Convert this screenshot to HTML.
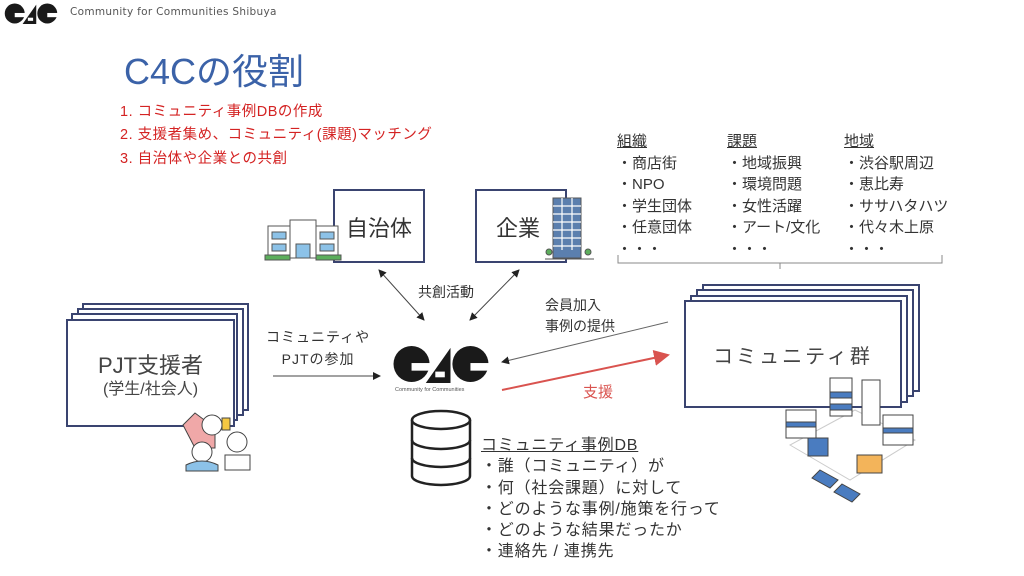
<!DOCTYPE html>
<html><head><meta charset="utf-8">
<style>
body{margin:0;width:1024px;height:576px;background:#fff;position:relative;overflow:hidden;font-family:"Liberation Sans","Noto Sans CJK JP",sans-serif;color:#333}
.a{position:absolute;white-space:nowrap}
.red{color:#d42323;font-size:14.5px}
.box{position:absolute;border:2px solid #3a4470;background:#fff;box-sizing:border-box}
.col{position:absolute;font-size:15px;line-height:21.5px;color:#333}
.col u{text-decoration:underline}
</style></head><body>
<svg width="0" height="0" style="position:absolute">
<defs>
<g id="logo">
<circle cx="19" cy="20" r="19" fill="#1a1a1a"/>
<rect x="19" y="19" width="21" height="8" fill="#fff"/>
<polygon points="34,40 60,3 60,40" fill="#1a1a1a"/>
<rect x="44" y="28" width="10" height="6" fill="#fff"/>
<circle cx="81" cy="20" r="19" fill="#1a1a1a"/>
<rect x="81" y="19" width="21" height="8" fill="#fff"/>
</g>
<marker id="ah" markerWidth="8" markerHeight="8" refX="7" refY="4" orient="auto-start-reverse"><path d="M0,0 L8,4 L0,8z" fill="#222"/></marker>
<marker id="ar" markerWidth="8" markerHeight="8" refX="7" refY="4" orient="auto"><path d="M0,0 L8,4 L0,8z" fill="#d9534f"/></marker>
</defs></svg>

<svg class="a" style="left:2px;top:3px" width="58" height="21" viewBox="0 0 100 40"><use href="#logo"/></svg>
<div class="a" style="left:70px;top:6px;font-size:10.5px;color:#555;letter-spacing:0.3px;font-family:'DejaVu Sans',sans-serif">Community for Communities Shibuya</div>

<div class="a" style="left:124px;top:43px;font-size:36px;color:#3b62a8">C4Cの役割</div>
<div class="a red" style="left:120px;top:100px;letter-spacing:0.5px">1. コミュニティ事例DBの作成</div>
<div class="a red" style="left:120px;top:123px;letter-spacing:0.5px">2. 支援者集め、コミュニティ(課題)マッチング</div>
<div class="a red" style="left:120px;top:147px;letter-spacing:0.5px">3. 自治体や企業との共創</div>

<div class="col" style="left:617px;top:131px"><u>組織</u><br>・商店街<br>・NPO<br>・学生団体<br>・任意団体<br>・・・</div>
<div class="col" style="left:727px;top:131px"><u>課題</u><br>・地域振興<br>・環境問題<br>・女性活躍<br>・アート/文化<br>・・・</div>
<div class="col" style="left:844px;top:131px"><u>地域</u><br>・渋谷駅周辺<br>・恵比寿<br>・ササハタハツ<br>・代々木上原<br>・・・</div>

<svg class="a" style="left:0;top:0" width="1024" height="576">
<path d="M618,255 v8 h162 v6 M780,263 h162 v-8" fill="none" stroke="#888" stroke-width="1"/>
<line x1="379" y1="270" x2="424" y2="320" stroke="#444" stroke-width="1" marker-start="url(#ah)" marker-end="url(#ah)"/>
<line x1="519" y1="270" x2="470" y2="320" stroke="#444" stroke-width="1" marker-start="url(#ah)" marker-end="url(#ah)"/>
<line x1="273" y1="376" x2="380" y2="376" stroke="#444" stroke-width="1" marker-end="url(#ah)"/>
<line x1="668" y1="322" x2="502" y2="362" stroke="#666" stroke-width="1" marker-end="url(#ah)"/>
<line x1="502" y1="390" x2="668" y2="355" stroke="#d9534f" stroke-width="2" marker-end="url(#ar)"/>
<g fill="#fff" stroke="#222" stroke-width="2.5">
<path d="M412,420 v56 a29,9 0 0 0 58,0 v-56"/>
<ellipse cx="441" cy="420" rx="29" ry="9"/>
<path d="M412,440 a29,9 0 0 0 58,0 M412,458 a29,9 0 0 0 58,0" fill="none"/>
</g>
</svg>

<div class="box" style="left:333px;top:189px;width:92px;height:74px"></div>
<div class="a" style="left:346px;top:211px;font-size:22px;color:#333">自治体</div>
<div class="box" style="left:475px;top:189px;width:92px;height:74px"></div>
<div class="a" style="left:496px;top:211px;font-size:22px;color:#333">企業</div>

<div class="a" style="left:418px;top:282px;font-size:14px">共創活動</div>
<div class="a" style="left:266px;top:326px;font-size:14px;text-align:center;line-height:22px;letter-spacing:1px">コミュニティや<br>PJTの参加</div>
<div class="a" style="left:545px;top:295px;font-size:14px;line-height:21px">会員加入<br>事例の提供</div>
<div class="a" style="left:583px;top:381px;font-size:15px;color:#d9534f">支援</div>

<svg class="a" style="left:392px;top:345px" width="98" height="38" viewBox="0 0 100 40"><use href="#logo"/></svg>
<div class="a" style="left:395px;top:387px;font-size:5.5px;color:#555">Community for Communities</div>

<div class="box" style="left:82px;top:303px;width:167px;height:108px"></div>
<div class="box" style="left:77px;top:308px;width:167px;height:108px"></div>
<div class="box" style="left:71px;top:313px;width:167px;height:108px"></div>
<div class="box" style="left:66px;top:319px;width:169px;height:108px"></div>
<div class="a" style="left:66px;top:348px;width:169px;text-align:center;font-size:22px;color:#444">PJT支援者</div>
<div class="a" style="left:66px;top:375px;width:169px;text-align:center;font-size:16px;color:#444">(学生/社会人)</div>

<div class="box" style="left:702px;top:284px;width:218px;height:108px"></div>
<div class="box" style="left:696px;top:289px;width:218px;height:108px"></div>
<div class="box" style="left:690px;top:295px;width:218px;height:108px"></div>
<div class="box" style="left:684px;top:300px;width:218px;height:108px"></div>
<div class="a" style="left:684px;top:340px;width:218px;text-align:center;font-size:20px;color:#444;letter-spacing:3px">コミュニティ群</div>

<div class="col" style="left:481px;top:435px;line-height:21.3px;font-size:16px;letter-spacing:0.8px"><u>コミュニティ事例DB</u><br>・誰（コミュニティ）が<br>・何（社会課題）に対して<br>・どのような事例/施策を行って<br>・どのような結果だったか<br>・連絡先 / 連携先</div>

<svg class="a" style="left:0;top:0" width="1024" height="576">
<g stroke="#555" stroke-width="1">
<rect x="268" y="226" width="70" height="32" fill="#fff"/>
<rect x="290" y="220" width="26" height="38" fill="#fff"/>
<rect x="272" y="232" width="14" height="7" fill="#8cc2e8"/><rect x="320" y="232" width="14" height="7" fill="#8cc2e8"/>
<rect x="272" y="244" width="14" height="7" fill="#8cc2e8"/><rect x="320" y="244" width="14" height="7" fill="#8cc2e8"/>
<rect x="296" y="244" width="14" height="14" fill="#8cc2e8"/>
<rect x="265" y="255" width="25" height="5" fill="#5cae5c"/><rect x="316" y="255" width="25" height="5" fill="#5cae5c"/>
<rect x="553" y="198" width="28" height="60" fill="#5b7fae"/>
<line x1="545" y1="259" x2="594" y2="259"/>
<circle cx="549" cy="252" r="3" fill="#5cae5c"/><circle cx="588" cy="252" r="3" fill="#5cae5c"/>
</g>
<g stroke="#fff" stroke-width="1.2"><line x1="553" y1="206" x2="581" y2="206"/><line x1="553" y1="214" x2="581" y2="214"/><line x1="553" y1="222" x2="581" y2="222"/><line x1="553" y1="230" x2="581" y2="230"/><line x1="553" y1="238" x2="581" y2="238"/><line x1="553" y1="246" x2="581" y2="246"/><line x1="562" y1="198" x2="562" y2="250"/><line x1="572" y1="198" x2="572" y2="250"/></g>
<g stroke="#444" stroke-width="1">
<path d="M183,425 l12,-12 l20,15 v20 h-20z" fill="#f0a8a8"/>
<circle cx="212" cy="425" r="10" fill="#fff"/>
<rect x="222" y="418" width="8" height="12" fill="#f5c842"/>
<circle cx="237" cy="442" r="10" fill="#fff"/>
<path d="M225,455 h25 v15 h-25z" fill="#fff"/>
<circle cx="202" cy="452" r="10" fill="#fff"/>
<path d="M186,465 q16,-8 32,0 v6 h-32z" fill="#8cc2e8"/>
</g>
<g stroke="#444" stroke-width="1">
<path d="M790,445 l60,35 l65,-40 l-60,-30z" fill="#fff" stroke="#ccc"/>
<rect x="830" y="378" width="22" height="38" fill="#fff"/><rect x="830" y="392" width="22" height="6" fill="#4a7cc0"/><rect x="830" y="404" width="22" height="6" fill="#4a7cc0"/>
<rect x="862" y="380" width="18" height="45" fill="#fff"/>
<rect x="786" y="410" width="30" height="28" fill="#fff"/><rect x="786" y="422" width="30" height="5" fill="#4a7cc0"/>
<rect x="883" y="415" width="30" height="30" fill="#fff"/><rect x="883" y="428" width="30" height="5" fill="#4a7cc0"/>
<rect x="808" y="438" width="20" height="18" fill="#4a7cc0"/>
<rect x="857" y="455" width="25" height="18" fill="#f3b45a"/>
<path d="M820,470 l18,10 l-8,8 l-18,-10z" fill="#4a7cc0"/>
<path d="M842,484 l18,10 l-8,8 l-18,-10z" fill="#4a7cc0"/>
</g>
</svg>
</body></html>
